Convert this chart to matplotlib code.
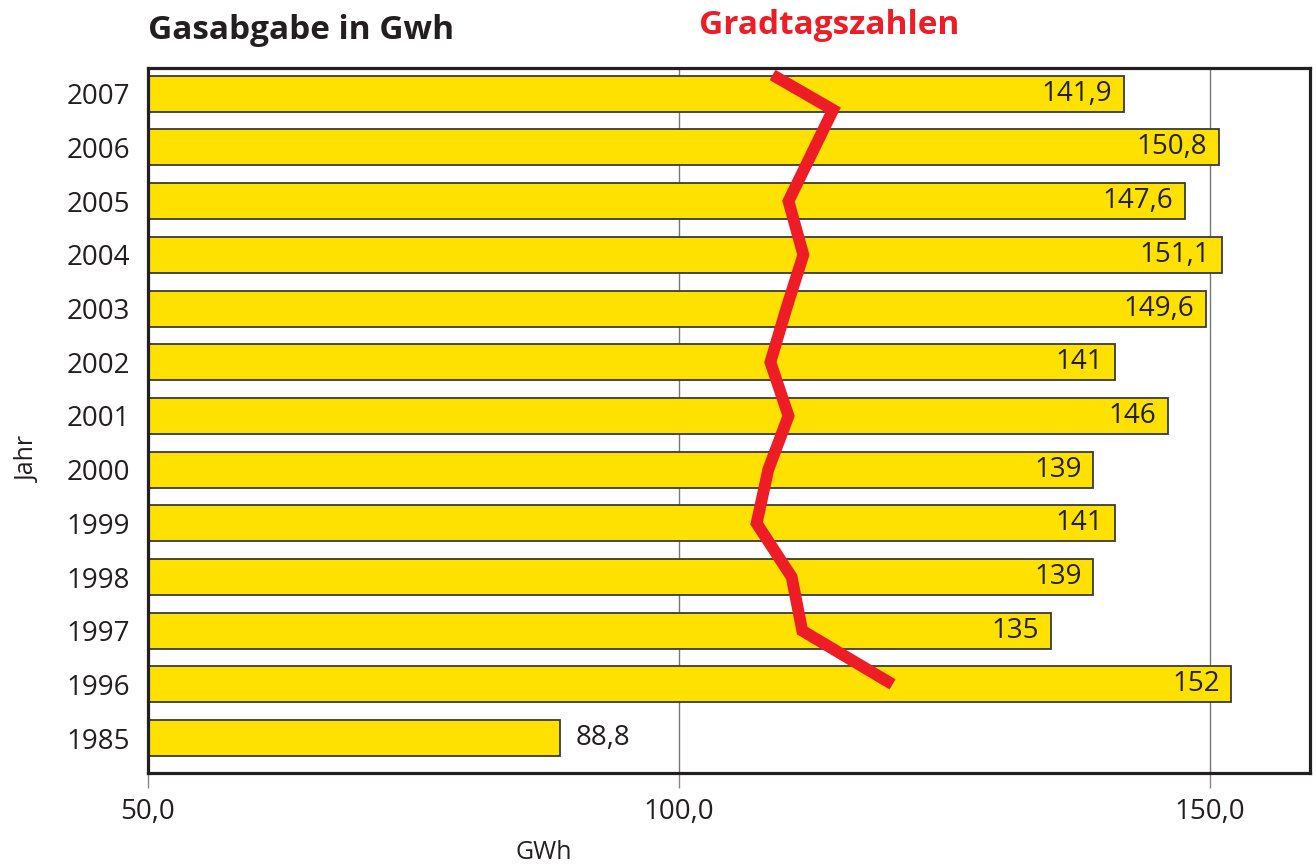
import matplotlib.pyplot as plt
import numpy as np

# Daten
jahre = ["1985", "1996", "1997", "1998", "1999", "2000", "2001",
         "2002", "2003", "2004", "2005", "2006", "2007"]
gasabgabe = [88.8, 152, 135, 139, 141, 139, 146, 141, 149.6, 151.1, 147.6, 150.8, 141.9]
labels = ["88,8", "152", "135", "139", "141", "139", "146", "141",
          "149,6", "151,1", "147,6", "150,8", "141,9"]

grad_werte = [120.1, 111.6, 110.6, 107.3, 108.4, 110.3, 108.6, 110.1, 111.7, 110.3, 114.5, 108.8]
grad_pos = [1, 2, 3, 4, 5, 6, 7, 8, 9, 10, 11.7, 12.35]

plt.rcParams["font.family"] = ["Open Sans", "DejaVu Sans"]

fig = plt.figure(figsize=(13.16, 8.66), dpi=100)
ax = fig.add_axes([0.1125, 0.1074, 0.8829, 0.8141])

y = np.arange(len(jahre))
ax.barh(y, gasabgabe, height=0.67, left=0, color="#FFE100",
        edgecolor="#3a3a3a", linewidth=1.3, zorder=2)

for yi, v, lab in zip(y, gasabgabe, labels):
    if v > 100:
        ax.text(v - 1.1, yi, lab, ha="right", va="center", fontsize=20,
                color="#231f20", zorder=4)
    else:
        ax.text(v + 1.5, yi, lab, ha="left", va="center", fontsize=20,
                color="#231f20", zorder=4)

ax.plot(grad_werte, grad_pos, color="#EE1C25", linewidth=8.5,
        solid_joinstyle="miter", solid_capstyle="butt", zorder=3)

ax.set_xlim(50, 159.4)
ax.set_ylim(-0.65, 12.48)
ax.set_xticks([50, 100, 150])
ax.set_xticklabels(["50,0", "100,0", "150,0"], fontsize=20, color="#231f20")
ax.set_yticks(y)
ax.set_yticklabels(jahre, fontsize=20, color="#231f20")
ax.tick_params(axis="y", length=0, pad=13)
ax.tick_params(axis="x", direction="out", length=11, width=1, color="#888888", pad=7)
ax.xaxis.grid(True, color="#777777", linewidth=1)
ax.set_axisbelow(True)
for s in ax.spines.values():
    s.set_linewidth(2.3)
    s.set_color("#231f20")

fig.text(0.012, 0.47, "Jahr", rotation=90, fontsize=18, color="#231f20",
         ha="left", va="center")
fig.text(0.413, 0.016, "GWh", fontsize=18, color="#231f20", ha="center", va="center")
fig.text(0.1125, 0.965, "Gasabgabe in Gwh", fontsize=24, fontweight="bold",
         color="#231f20", ha="left", va="center")
fig.text(0.63, 0.971, "Gradtagszahlen", fontsize=24, fontweight="bold",
         color="#EE1C25", ha="center", va="center")

fig.savefig("out.png", dpi=100)
